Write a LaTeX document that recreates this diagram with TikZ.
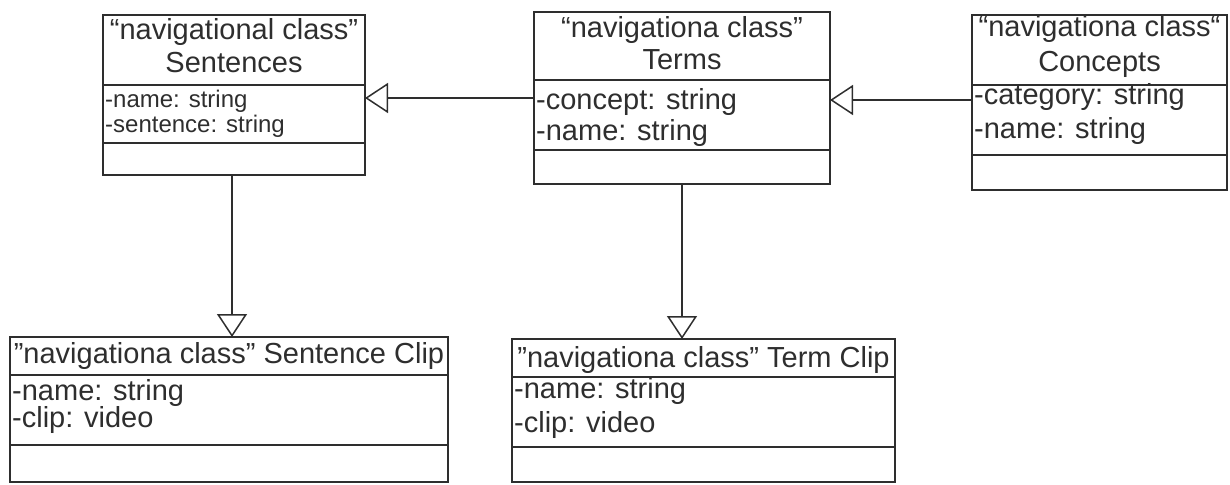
\documentclass[tikz,border=0pt]{standalone}
\usepackage{fontspec}
\setmainfont{Liberation Sans}
\usetikzlibrary{arrows.meta}
\definecolor{ink}{gray}{0.18}

\begin{document}
\begin{tikzpicture}[x=1pt,y=-1pt,
  umlbox/.style={draw=ink, line width=1.8pt, inner sep=0pt, outer sep=0pt, anchor=north west},
  divider/.style={draw=ink, line width=1.8pt},
  head/.style={anchor=base, inner sep=0pt, text=ink, font=\fontsize{29}{32}\selectfont},
  attr/.style={anchor=base west, inner sep=0pt, text=ink, font=\fontsize{29}{32}\selectfont},
  smallattr/.style={attr, font=\fontsize{24}{26}\selectfont},
  inherit/.style={draw=ink, line width=1.8pt,
    -{Triangle[open, length=23pt, width=30pt, line width=1.5pt]}},
]
\useasboundingbox (0,0) rectangle (1230,484);

% ---- Sentences ----
\node[umlbox, minimum width=262pt, minimum height=160pt] (sent) at (103,15) {};
\draw[divider] (103,85) -- (365,85);
\draw[divider] (103,143) -- (365,143);
\node[head] (sent-st) at (234,40) {“navigational class”};
\node[head] (sent-nm) at (234,73) {Sentences};
\node[smallattr] (sent-a1) at (105,108) {-name: string};
\node[smallattr] (sent-a2) at (105,132) {-sentence: string};

% ---- Terms ----
\node[umlbox, minimum width=296pt, minimum height=172pt] (terms) at (534,12) {};
\draw[divider] (534,80) -- (830,80);
\draw[divider] (534,150) -- (830,150);
\node[head] (terms-st) at (682,38) {“navigationa class”};
\node[head] (terms-nm) at (682,70) {Terms};
\node[attr] (terms-a1) at (536,110) {-concept: string};
\node[attr] (terms-a2) at (536,140) {-name: string};

% ---- Concepts ----
\node[umlbox, minimum width=255pt, minimum height=175pt] (conc) at (972,15) {};
\draw[divider] (972,85) -- (1227,85);
\draw[divider] (972,155) -- (1227,155);
\node[head] (conc-st) at (1099.5,37) {“navigationa class“};
\node[head] (conc-nm) at (1099.5,72) {Concepts};
\node[attr] (conc-a1) at (974,105) {-category: string};
\node[attr] (conc-a2) at (974,138) {-name: string};

% ---- Sentence Clip ----
\node[umlbox, minimum width=438pt, minimum height=145pt] (sclip) at (10,337) {};
\draw[divider] (10,375) -- (448,375);
\draw[divider] (10,445) -- (448,445);
\node[head] (sclip-nm) at (229,363) {”navigationa class” Sentence Clip};
\node[attr] (sclip-a1) at (12,400) {-name: string};
\node[attr] (sclip-a2) at (12,427) {-clip: video};

% ---- Term Clip ----
\node[umlbox, minimum width=383pt, minimum height=143pt] (tclip) at (512,339) {};
\draw[divider] (512,377) -- (895,377);
\draw[divider] (512,447) -- (895,447);
\node[head] (tclip-nm) at (703.5,367) {”navigationa class” Term Clip};
\node[attr] (tclip-a1) at (514,398) {-name: string};
\node[attr] (tclip-a2) at (514,432) {-clip: video};

% ---- generalisations ----
\draw[inherit] (terms.west) -- (terms.west -| sent.east);
\draw[inherit] ([yshift=2.5pt]conc.west) -- ([yshift=2.5pt]conc.west -| terms.east);
\draw[inherit] ([xshift=-2pt]sent.south) -- ([xshift=-2pt]sent.south |- sclip.north);
\draw[inherit] (terms.south) -- (terms.south |- tclip.north);
\end{tikzpicture}
\end{document}
